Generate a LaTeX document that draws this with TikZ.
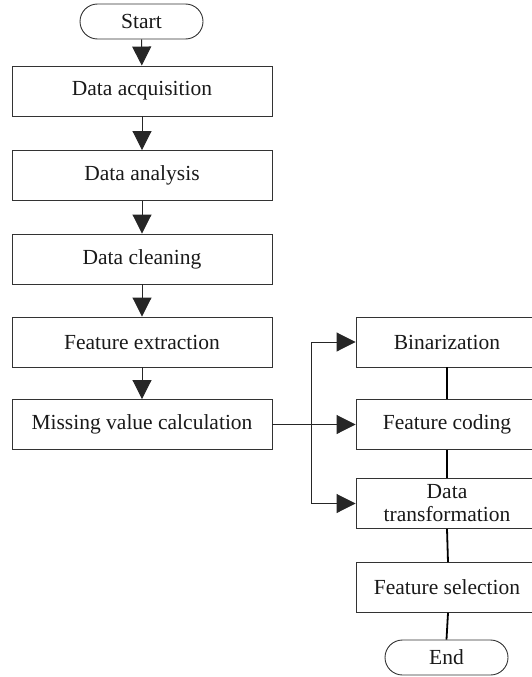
\documentclass[tikz,border=0pt]{standalone}
\usepackage{fontspec}
\setmainfont{Liberation Serif}
\usetikzlibrary{arrows.meta}
\begin{document}
\begin{tikzpicture}[x=1pt,y=-1pt,
  every node/.style={font=\fontsize{21.5}{24}\selectfont, text=black!90},
  procbox/.style={draw=black!80, line width=0.9pt, minimum height=50pt, inner sep=0pt, align=center},
  leftbox/.style={procbox, minimum width=260pt},
  rightbox/.style={procbox, minimum width=182pt},
  terminal/.style={draw=black!80, line width=0.9pt, minimum width=123pt, minimum height=35pt, rounded corners=17.5pt, inner sep=0pt},
  flow/.style={draw=black!85, line width=0.9pt, -{Triangle[length=19pt,width=19pt]}},
  link/.style={draw=black, line width=1.8pt}
]
\useasboundingbox (0,0) rectangle (532,677);

% main column
\node[terminal] (start) at (141.5,21.5) {Start};
\node[leftbox] (acq)  at (142,91)    {Data acquisition};
\node[leftbox] (ana)  at (142,175.5) {Data analysis};
\node[leftbox] (cln)  at (142,259)   {Data cleaning};
\node[leftbox] (fex)  at (142,342)   {Feature extraction};
\node[leftbox] (mvc)  at (142,424.5) {Missing value calculation};

% right column
\node[rightbox] (bin) at (447,342)   {Binarization};
\node[rightbox] (fco) at (447,424.5) {Feature coding};
\node[rightbox] (dtr) at (447,503.5) {Data\\[-1pt]transformation};
\node[rightbox] (fse) at (447,587.5) {Feature selection};
\node[terminal] (end) at (446.5,657.5) {End};

% arrows down the main column
\draw[flow] (start) -- (acq);
\draw[flow] (acq) -- (ana);
\draw[flow] (ana) -- (cln);
\draw[flow] (cln) -- (fex);
\draw[flow] (fex) -- (mvc);

% branch to the preprocessing steps
\coordinate (split) at (311,424.5);
\draw[draw=black!85, line width=0.9pt] (mvc.east) -- (split);
\draw[flow] (split) |- (bin.west);
\draw[flow] (split) -- (fco.west);
\draw[flow] (split) |- (dtr.west);

% plain links down the right column
\draw[link] (bin) -- (fco);
\draw[link] (fco) -- (dtr);
\draw[link] ([xshift=0pt]dtr.south) -- ([xshift=1pt]fse.north);
\draw[link] ([xshift=1pt]fse.south) -- ([xshift=0pt]end.north);
\end{tikzpicture}
\end{document}
